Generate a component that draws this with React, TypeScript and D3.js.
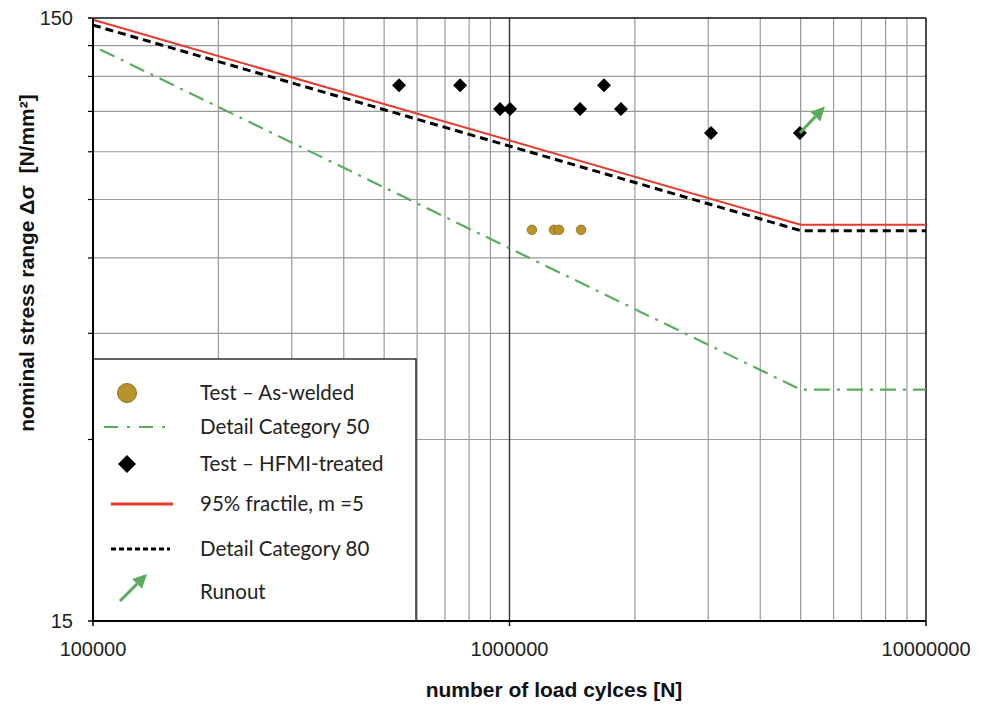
import React from 'react';
import * as d3 from 'd3';

// test results, HFMI treated
const hfmiN = [543000, 761000, 949000, 1003000, 1477000, 1686000, 1852000, 3046000, 4980000];
const hfmiS = [116, 116, 106, 106, 106, 116, 106, 96.7, 96.7];

// test results, as-welded
const weldedN = [1132000, 1279000, 1315000, 1485000];
const weldedS = [66.8, 66.8, 66.8, 66.8];

// design curves
const fractileN = [100000, 5000000, 10000000];
const fractileS = [149, 68.1, 68.1];
const dc80N = [100000, 5000000, 10000000];
const dc80S = [146, 66.6, 66.6];
const dc50N = [104000, 5000000, 10000000];
const dc50S = [133, 36.3, 36.3];

// runout arrow (from last specimen)
const runoutN = [4980000, 5720000];
const runoutS = [96.7, 107];

const xTicks = [100000, 1000000, 10000000];
const xMinor = [200000, 300000, 400000, 500000, 600000, 700000, 800000, 900000,
  2000000, 3000000, 4000000, 5000000, 6000000, 7000000, 8000000, 9000000];
const yTicks = [15, 150];
const yMinor = [30, 45, 60, 75, 90, 105, 120, 135];

const legendItems = [
  'Test – As-welded',
  'Detail Category 50',
  'Test – HFMI-treated',
  '95% fractile, m =5',
  'Detail Category 80',
  'Runout',
];

const GREEN = '#5aad5c';
const RED = '#e8392b';
const GOLD = '#b8922a';

const zip = (a: number[], b: number[]) => a.map((v, i) => [v, b[i]] as [number, number]);

const Arrow = ({ x1, y1, x2, y2 }: { x1: number; y1: number; x2: number; y2: number }) => {
  const a = Math.atan2(y2 - y1, x2 - x1);
  const len = 14;
  const w = 7;
  const bx = x2 - len * Math.cos(a);
  const by = y2 - len * Math.sin(a);
  const px = -Math.sin(a) * w;
  const py = Math.cos(a) * w;
  return (
    <g>
      <line x1={x1} y1={y1} x2={bx} y2={by} stroke={GREEN} strokeWidth={3} />
      <path d={`M${x2},${y2}L${bx + px},${by + py}L${bx - px},${by - py}Z`} fill={GREEN} />
    </g>
  );
};

const App = () => {
  const width = 988;
  const height = 707;
  const margin = { top: 18, right: 62, bottom: 86, left: 93 };
  const innerWidth = width - margin.left - margin.right;
  const innerHeight = height - margin.top - margin.bottom;

  const x = d3.scaleLog().domain([100000, 10000000]).range([0, innerWidth]);
  const y = d3.scaleLog().domain([15, 150]).range([innerHeight, 0]);

  const line = d3
    .line<[number, number]>()
    .x((d) => x(d[0]))
    .y((d) => y(d[1]));

  const diamond = (cx: number, cy: number, r: number) =>
    `M${cx},${cy - r}L${cx + r},${cy}L${cx},${cy + r}L${cx - r},${cy}Z`;

  const legend = { x: 0, y: 341, w: 323, h: innerHeight - 341 };
  const rowY = [393, 427, 464, 504, 549, 592].map((v) => v - margin.top);
  const textX = 107;

  return (
    <svg
      width={width}
      height={height}
      style={{ position: 'absolute', left: 0, top: 0, background: '#fff' }}
    >
      <g transform={`translate(${margin.left},${margin.top})`}>
        {/* grid */}
        {yMinor.map((v) => (
          <g key={'hy' + v}>
            <line x1={0} x2={innerWidth} y1={y(v)} y2={y(v)} stroke='#9a9a9a' strokeWidth={1.2} />
            <line x1={-5} x2={0} y1={y(v)} y2={y(v)} stroke='#000' strokeWidth={1.2} />
          </g>
        ))}
        {xMinor.map((v) => (
          <line key={'vx' + v} x1={x(v)} x2={x(v)} y1={0} y2={innerHeight} stroke='#9a9a9a' strokeWidth={1.2} />
        ))}
        <line x1={x(1000000)} x2={x(1000000)} y1={0} y2={innerHeight} stroke='#333' strokeWidth={1.4} />

        {/* frame */}
        <line x1={0} x2={innerWidth} y1={0} y2={0} stroke='#111' strokeWidth={1.5} />
        <line x1={innerWidth} x2={innerWidth} y1={0} y2={innerHeight} stroke='#111' strokeWidth={1.5} />

        {/* design curves */}
        <path d={line(zip(dc50N, dc50S)) || ''} fill='none' stroke={GREEN} strokeWidth={2.2} strokeDasharray='16,7,3,7' />
        <path d={line(zip(fractileN, fractileS)) || ''} fill='none' stroke={RED} strokeWidth={2} />
        <path d={line(zip(dc80N, dc80S)) || ''} fill='none' stroke='#000' strokeWidth={3} strokeDasharray='8,5' />

        {/* tests */}
        {zip(weldedN, weldedS).map((d, i) => (
          <circle key={'w' + i} cx={x(d[0])} cy={y(d[1])} r={4.8} fill={GOLD} stroke='#8d6f1c' strokeWidth={0.8} />
        ))}
        {zip(hfmiN, hfmiS).map((d, i) => (
          <path key={'h' + i} d={diamond(x(d[0]), y(d[1]), 7)} fill='#000' />
        ))}
        <Arrow x1={x(runoutN[0])} y1={y(runoutS[0])} x2={x(runoutN[1])} y2={y(runoutS[1])} />

        {/* legend */}
        <rect x={legend.x} y={legend.y} width={legend.w} height={legend.h} fill='#fff' stroke='#111' strokeWidth={1.3} />
        <circle cx={34} cy={rowY[0]} r={9.5} fill={GOLD} stroke='#8d6f1c' strokeWidth={1} />
        <line x1={11} x2={73} y1={rowY[1]} y2={rowY[1]} stroke={GREEN} strokeWidth={2.2} strokeDasharray='14,9,3,9' />
        <path d={diamond(34, rowY[2], 9)} fill='#000' />
        <line x1={18} x2={80} y1={rowY[3]} y2={rowY[3]} stroke={RED} strokeWidth={3} />
        <line x1={18} x2={77} y1={rowY[4]} y2={rowY[4]} stroke='#000' strokeWidth={3} strokeDasharray='5,3' />
        <Arrow x1={27} y1={rowY[5] + 9} x2={54} y2={rowY[5] - 18} />
        {legendItems.map((t, i) => (
          <text
            key={t}
            x={textX}
            y={rowY[i]}
            dy='0.35em'
            fontFamily='Lato, sans-serif'
            fontSize={20.5}
            fill='#222'
          >
            {t}
          </text>
        ))}

        {/* axes */}
        <line x1={0} x2={0} y1={0} y2={innerHeight} stroke='#000' strokeWidth={2} />
        <line x1={0} x2={innerWidth} y1={innerHeight} y2={innerHeight} stroke='#000' strokeWidth={2} />
        <line x1={-5} x2={5} y1={innerHeight} y2={innerHeight} stroke='#000' strokeWidth={1.5} />
        <line x1={-5} x2={0} y1={0} y2={0} stroke='#000' strokeWidth={1.5} />
        {xTicks.map((v) => (
          <g key={'xt' + v} transform={`translate(${x(v)},${innerHeight})`}>
            <line y1={0} y2={5} stroke='#000' strokeWidth={1.5} />
            <text y={35} textAnchor='middle' fontFamily='Liberation Sans, Arial, sans-serif' fontSize={20} fill='#222'>
              {v}
            </text>
          </g>
        ))}
        {yTicks.map((v) => (
          <text
            key={'yt' + v}
            x={-20}
            y={y(v)}
            dy='0.35em'
            textAnchor='end'
            fontFamily='Liberation Sans, Arial, sans-serif'
            fontSize={20}
            fill='#222'
          >
            {v}
          </text>
        ))}
      </g>

      <text
        x={554}
        y={697}
        textAnchor='middle'
        fontFamily='Liberation Sans, Arial, sans-serif'
        fontWeight='bold'
        fontSize={21}
        fill='#111'
      >
        number of load cylces [N]
      </text>
      <text
        transform='translate(34,263) rotate(-90)'
        textAnchor='middle'
        fontFamily='Liberation Sans, Arial, sans-serif'
        fontWeight='bold'
        fontSize={21}
        fill='#111'
      >
        {'nominal stress range Δσ \u00a0[N/mm²]'}
      </text>
    </svg>
  );
};

export default App;
